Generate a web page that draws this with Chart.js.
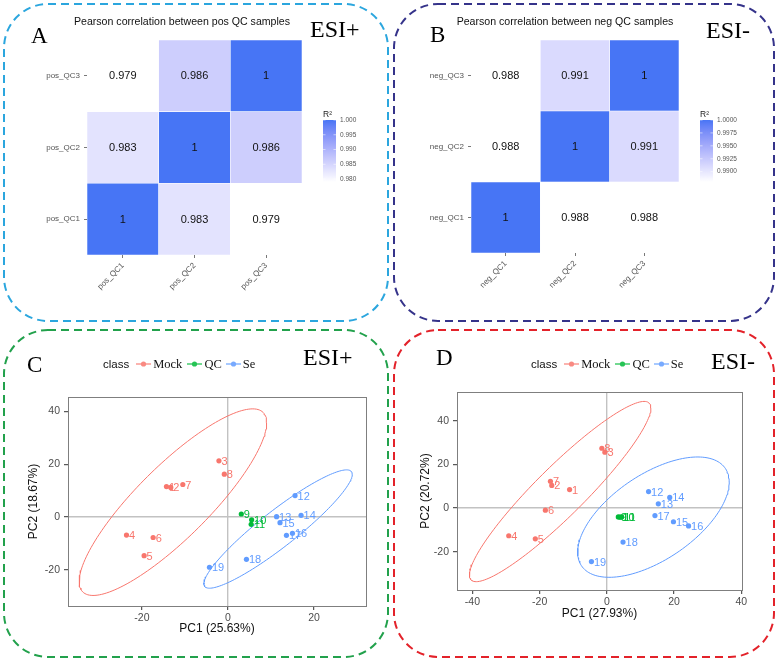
<!DOCTYPE html>
<html>
<head>
<meta charset="utf-8">
<script src="https://cdn.jsdelivr.net/npm/chart.js@4.4.0/dist/chart.umd.min.js"></script>
<style>
  body { margin: 0; background: #fff; }
  #page { position: relative; width: 777px; height: 662px; overflow: hidden; font-family: 'Liberation Sans', Arial, sans-serif; }
  #page canvas { position: absolute; }
  #boxes { position: absolute; left: 0; top: 0; pointer-events: none; }
  .t { position: absolute; white-space: nowrap; line-height: 1; color: #000; }
  .serif { font-family: 'Liberation Serif', 'Times New Roman', serif; }
  .letter { font-size: 23px; }
  .esi { font-size: 24px; }
  .title { font-size: 10.6px; color: #111; transform: translateX(-50%); }
  .legend { position: absolute; display: flex; align-items: center; height: 16px; }
  .legend .cls { font-size: 11.5px; color: #111; }
  .legend svg { display: block; }
  .legend .name { font-family: 'Liberation Serif', 'Times New Roman', serif; font-size: 12.5px; color: #111; margin-left: 2px; }
</style>
</head>
<body>
<div id="page">
  <canvas id="chartA" width="390" height="328" style="left:0;top:0"></canvas>
  <canvas id="chartB" width="386" height="328" style="left:391px;top:0"></canvas>
  <canvas id="chartC" width="390" height="328" style="left:0;top:330px"></canvas>
  <canvas id="chartD" width="386" height="328" style="left:391px;top:330px"></canvas>

  <svg id="boxes" width="777" height="662">
    <g fill="none" stroke-width="2" stroke-dasharray="8 5">
      <rect x="4" y="4" width="384" height="317" rx="44" stroke="#2ba6de"/>
      <rect x="394" y="4" width="380" height="317" rx="44" stroke="#35338a"/>
      <rect x="4" y="330" width="384" height="327" rx="44" stroke="#22a14c"/>
      <rect x="394" y="330" width="380" height="327" rx="44" stroke="#e3222a"/>
    </g>
  </svg>

  <div class="t serif letter" style="left:31px;top:24px">A</div>
  <div class="t serif esi" style="left:310px;top:17px">ESI+</div>
  <div class="t title" style="left:182px;top:16px">Pearson correlation between pos QC samples</div>

  <div class="t serif letter" style="left:430px;top:23px">B</div>
  <div class="t serif esi" style="left:706px;top:18px">ESI-</div>
  <div class="t title" style="left:565px;top:16px">Pearson correlation between neg QC samples</div>

  <div class="t serif letter" style="left:27px;top:353px">C</div>
  <div class="t serif esi" style="left:303px;top:345px">ESI+</div>
  <div class="legend" id="legendC" style="left:103px;top:356px"></div>

  <div class="t serif letter" style="left:436px;top:346px">D</div>
  <div class="t serif esi" style="left:711px;top:349px">ESI-</div>
  <div class="legend" id="legendD" style="left:531px;top:356px"></div>
</div>

<script>
// heatmaps: rows bottom-to-top QC1..QC3, columns QC1..QC3
const posLabels = ['pos_QC1', 'pos_QC2', 'pos_QC3'];
const posR = [
  [1, 0.983, 0.979],
  [0.983, 1, 0.986],
  [0.979, 0.986, 1]
];
const posBarTicks = [1.000, 0.995, 0.990, 0.985, 0.980];
const posBarLabels = ['1.000', '0.995', '0.990', '0.985', '0.980'];

const negLabels = ['neg_QC1', 'neg_QC2', 'neg_QC3'];
const negR = [
  [1, 0.988, 0.988],
  [0.988, 1, 0.991],
  [0.988, 0.991, 1]
];
const negBarTicks = [1.0000, 0.9975, 0.9950, 0.9925, 0.9900];
const negBarLabels = ['1.0000', '0.9975', '0.9950', '0.9925', '0.9900'];

// PCA ESI+
const classes = ['Mock', 'QC', 'Se'];
const cMockIds = [1, 2, 3, 4, 5, 6, 7, 8];
const cMockPC1 = [-14.3, -13.3, -2.1, -23.6, -19.5, -17.4, -10.5, -0.85];
const cMockPC2 = [11.5, 11.2, 21.3, -6.9, -14.7, -7.8, 12.3, 16.2];
const cQcIds = [9, 10, 11];
const cQcPC1 = [3.1, 5.5, 5.4];
const cQcPC2 = [1.1, -1.1, -2.8];
const cSeIds = [12, 13, 14, 15, 16, 17, 18, 19];
const cSePC1 = [15.6, 11.3, 17.0, 12.1, 15.0, 13.6, 4.3, -4.3];
const cSePC2 = [8.1, 0.1, 0.6, -2.2, -6.2, -7.0, -16.1, -19.1];
// ellipse: centre x, centre y, sd x, sd y, correlation
const cMockEllipse = [-12.8, 5.6, 21.8, 35.4, 0.851];
const cSeEllipse = [11.65, -4.6, 17.25, 22.45, 0.924];

// PCA ESI-
const dMockIds = [1, 2, 3, 4, 5, 6, 7, 8];
const dMockPC1 = [-11.1, -16.4, -0.6, -29.2, -21.3, -18.3, -16.8, -1.5];
const dMockPC2 = [8.5, 10.4, 25.6, -12.6, -14.0, -0.9, 12.3, 27.4];
const dQcIds = [9, 10, 11];
const dQcPC1 = [3.4, 3.9, 4.4];
const dQcPC2 = [-4.0, -4.1, -4.0];
const dSeIds = [12, 13, 14, 15, 16, 17, 18, 19];
const dSePC1 = [12.4, 15.3, 18.7, 19.8, 24.3, 14.3, 4.8, -4.6];
const dSePC2 = [7.6, 2.0, 4.9, -6.2, -8.1, -3.4, -15.5, -24.4];
const dMockEllipse = [-13.9, 7.6, 27.0, 41.2, 0.926];
const dSeEllipse = [13.85, -4.1, 22.55, 27.5, 0.583];

const classColors = ['#F8766D', '#00BA38', '#619CFF'];
const lowColor = [255, 255, 255];
const highColor = [71, 117, 245];

Chart.defaults.font.family = "'Liberation Sans', Arial, sans-serif";
Chart.defaults.animation = false;

// --- colour gradient in Lab, like ggplot ---
function lin(c) { c /= 255; return c <= 0.04045 ? c / 12.92 : Math.pow((c + 0.055) / 1.055, 2.4); }
function unlin(c) {
  c = c <= 0.0031308 ? 12.92 * c : 1.055 * Math.pow(c, 1 / 2.4) - 0.055;
  return Math.round(Math.max(0, Math.min(1, c)) * 255);
}
function toLab(rgb) {
  const [r, g, b] = rgb.map(lin);
  const x = (0.4124 * r + 0.3576 * g + 0.1805 * b) / 0.95047;
  const y = 0.2126 * r + 0.7152 * g + 0.0722 * b;
  const z = (0.0193 * r + 0.1192 * g + 0.9505 * b) / 1.08883;
  const f = t => t > 0.008856 ? Math.cbrt(t) : 7.787 * t + 16 / 116;
  return [116 * f(y) - 16, 500 * (f(x) - f(y)), 200 * (f(y) - f(z))];
}
function fromLab([L, a, bb]) {
  const fy = (L + 16) / 116, fx = fy + a / 500, fz = fy - bb / 200;
  const inv = t => t * t * t > 0.008856 ? t * t * t : (t - 16 / 116) / 7.787;
  const x = inv(fx) * 0.95047, y = inv(fy), z = inv(fz) * 1.08883;
  const r = 3.2406 * x - 1.5372 * y - 0.4986 * z;
  const g = -0.9689 * x + 1.8758 * y + 0.0415 * z;
  const b = 0.0557 * x - 0.2040 * y + 1.0570 * z;
  return `rgb(${unlin(r)},${unlin(g)},${unlin(b)})`;
}
const labLow = toLab(lowColor), labHigh = toLab(highColor);
function fillFor(t) {
  return fromLab(labLow.map((v, i) => v + (labHigh[i] - v) * t));
}

// --- plugins ---
const cellText = {
  id: 'cellText',
  afterDatasetsDraw(chart) {
    const ctx = chart.ctx;
    ctx.save();
    ctx.font = "11px 'Liberation Sans', Arial";
    ctx.fillStyle = '#111';
    ctx.textAlign = 'center';
    ctx.textBaseline = 'middle';
    chart.data.datasets.forEach((ds, i) => {
      chart.getDatasetMeta(i).data.forEach((bar, j) => {
        ctx.fillText(String(ds.values[j]), bar.x, (bar.y + bar.base) / 2 + 0.5);
      });
    });
    ctx.restore();
  }
};

const colorbar = {
  id: 'colorbar',
  afterDraw(chart, args, opts) {
    const { ctx, chartArea } = chart;
    const x = chartArea.right + 21, top = chartArea.top + 80, w = 13, h = 62;
    const grad = ctx.createLinearGradient(0, top + h, 0, top);
    for (let i = 0; i <= 20; i++) grad.addColorStop(i / 20, fillFor(i / 20));
    ctx.save();
    ctx.fillStyle = grad;
    ctx.fillRect(x, top, w, h);
    ctx.font = "6.5px 'Liberation Sans', Arial";
    ctx.fillStyle = '#555';
    ctx.textAlign = 'left';
    ctx.textBaseline = 'middle';
    ctx.strokeStyle = 'rgba(255,255,255,0.9)';
    ctx.lineWidth = 0.6;
    opts.ticks.forEach((v, i) => {
      const y = top + h - (v - opts.min) / (opts.max - opts.min) * h;
      ctx.beginPath();
      ctx.moveTo(x, y); ctx.lineTo(x + 2.5, y);
      ctx.moveTo(x + w - 2.5, y); ctx.lineTo(x + w, y);
      ctx.stroke();
      ctx.fillText(opts.labels[i], x + w + 4, y);
    });
    ctx.font = "8.5px 'Liberation Sans', Arial";
    ctx.fillStyle = '#222';
    ctx.textBaseline = 'alphabetic';
    ctx.fillText('R²', x, top - 3);
    ctx.restore();
  }
};

const frame = {
  id: 'frame',
  afterDatasetsDraw(chart) {
    const { ctx, chartArea: a } = chart;
    ctx.save();
    ctx.strokeStyle = '#7f7f7f';
    ctx.lineWidth = 1;
    ctx.strokeRect(Math.round(a.left) + 0.5, Math.round(a.top) + 0.5,
      Math.round(a.right - a.left), Math.round(a.bottom - a.top));
    ctx.restore();
  }
};

const pointLabels = {
  id: 'pointLabels',
  afterDatasetsDraw(chart) {
    const ctx = chart.ctx;
    ctx.save();
    ctx.font = "11px 'Liberation Sans', Arial";
    ctx.textAlign = 'left';
    ctx.textBaseline = 'middle';
    chart.data.datasets.forEach((ds, i) => {
      if (!ds.ids) return;
      ctx.fillStyle = ds.backgroundColor;
      chart.getDatasetMeta(i).data.forEach((pt, j) => {
        ctx.fillText(String(ds.ids[j]), pt.x + 2.5, pt.y + 1);
      });
    });
    ctx.restore();
  }
};

// --- heatmaps ---
function heatDatasets(matrix, labels) {
  const all = matrix.flat();
  const min = Math.min(...all), max = Math.max(...all);
  return matrix.map((row, r) => ({
    label: labels[r],
    data: row.map(() => [r, r + 1]),
    values: row,
    backgroundColor: row.map(v => fillFor((v - min) / (max - min))),
    borderColor: 'rgba(255,255,255,0.8)',
    borderWidth: 0.6,
    borderSkipped: false,
    barPercentage: 1,
    categoryPercentage: 1,
    grouped: false
  }));
}

function heatChart(id, labels, matrix, barTicks, barLabels, pad, yWidth, xHeight) {
  const all = matrix.flat();
  return new Chart(document.getElementById(id), {
    type: 'bar',
    data: { labels: labels, datasets: heatDatasets(matrix, labels) },
    options: {
      responsive: false,
      devicePixelRatio: 1,
      layout: { padding: pad },
      plugins: {
        legend: { display: false },
        tooltip: { enabled: false },
        colorbar: { min: Math.min(...all), max: Math.max(...all), ticks: barTicks, labels: barLabels }
      },
      scales: {
        x: {
          grid: { drawOnChartArea: false, offset: false, tickLength: 3, tickColor: '#555', tickWidth: 0.8 },
          border: { display: false },
          ticks: { minRotation: 45, maxRotation: 45, autoSkip: false, padding: 3, color: '#555', font: { size: 8 } },
          afterFit: s => { s.height = xHeight; }
        },
        y: {
          min: 0,
          max: 3,
          afterBuildTicks: s => { s.ticks = [0.5, 1.5, 2.5].map(v => ({ value: v })); },
          grid: { drawOnChartArea: false, tickLength: 3, tickColor: '#555', tickWidth: 0.8 },
          border: { display: false },
          ticks: { callback: v => labels[Math.floor(v)], padding: 4, color: '#555', font: { size: 8 } },
          afterFit: s => { s.width = yWidth; }
        }
      }
    },
    plugins: [cellText, colorbar]
  });
}

heatChart('chartA', posLabels, posR, posBarTicks, posBarLabels,
  { top: 40, right: 88, left: 0, bottom: 0 }, 87, 73);
heatChart('chartB', negLabels, negR, negBarTicks, negBarLabels,
  { top: 40, right: 98, left: 0, bottom: 0 }, 80, 75);

// --- PCA scatter ---
function toPoints(xs, ys) { return xs.map((x, i) => ({ x: x, y: ys[i] })); }
function ellipsePoints([cx, cy, sx, sy, r]) {
  const pts = [];
  for (let k = 0; k <= 160; k++) {
    const t = k / 160 * 2 * Math.PI;
    pts.push({ x: cx + sx * Math.cos(t), y: cy + sy * (r * Math.cos(t) + Math.sqrt(1 - r * r) * Math.sin(t)) });
  }
  return pts;
}
function pointSet(name, color, ids, xs, ys) {
  return {
    label: name, data: toPoints(xs, ys), ids: ids,
    backgroundColor: color, borderColor: color,
    pointRadius: 2.6, pointBorderWidth: 0, order: 1
  };
}
function ellipseSet(color, params) {
  return {
    label: 'ellipse', data: ellipsePoints(params), showLine: true,
    borderColor: color, borderWidth: 1, pointRadius: 0, fill: false, order: 2
  };
}

function pcaChart(id, sets, xr, yr, xTitle, yTitle, pad, yWidth, xHeight, yTitlePad, xTitlePad) {
  const zeroGrid = {
    color: c => (c.tick && c.tick.value === 0 ? '#c2c2c2' : 'rgba(0,0,0,0)'),
    lineWidth: 1.4, tickColor: '#333', tickLength: 4, tickWidth: 1
  };
  return new Chart(document.getElementById(id), {
    type: 'scatter',
    data: { datasets: sets },
    options: {
      responsive: false,
      devicePixelRatio: 1,
      layout: { padding: pad },
      plugins: { legend: { display: false }, tooltip: { enabled: false } },
      scales: {
        x: {
          type: 'linear', min: xr[0], max: xr[1],
          ticks: { stepSize: 20, includeBounds: false, color: '#4d4d4d', font: { size: 10.5 }, padding: 2 },
          grid: zeroGrid,
          border: { display: false },
          title: { display: true, text: xTitle, color: '#111', font: { size: 12 }, padding: { top: 0, bottom: xTitlePad } },
          afterFit: s => { s.height = xHeight; }
        },
        y: {
          type: 'linear', min: yr[0], max: yr[1],
          ticks: { stepSize: 20, includeBounds: false, color: '#4d4d4d', font: { size: 10.5 }, padding: 4 },
          grid: zeroGrid,
          border: { display: false },
          title: { display: true, text: yTitle, color: '#111', font: { size: 12 }, padding: { top: yTitlePad, bottom: 0 } },
          afterFit: s => { s.width = yWidth; }
        }
      }
    },
    plugins: [frame, pointLabels]
  });
}

pcaChart('chartC', [
  ellipseSet(classColors[0], cMockEllipse),
  ellipseSet(classColors[2], cSeEllipse),
  pointSet(classes[0], classColors[0], cMockIds, cMockPC1, cMockPC2),
  pointSet(classes[1], classColors[1], cQcIds, cQcPC1, cQcPC2),
  pointSet(classes[2], classColors[2], cSeIds, cSePC1, cSePC2)
], [-37.2, 32.1], [-33.8, 45.5], 'PC1 (25.63%)', 'PC2 (18.67%)',
  { top: 67, right: 24, left: 0, bottom: 0 }, 68, 52, 26, 22);

pcaChart('chartD', [
  ellipseSet(classColors[0], dMockEllipse),
  ellipseSet(classColors[2], dSeEllipse),
  pointSet(classes[0], classColors[0], dMockIds, dMockPC1, dMockPC2),
  pointSet(classes[1], classColors[1], dQcIds, dQcPC1, dQcPC2),
  pointSet(classes[2], classColors[2], dSeIds, dSePC1, dSePC2)
], [-44.6, 40.2], [-37.4, 53.1], 'PC1 (27.93%)', 'PC2 (20.72%)',
  { top: 62, right: 35, left: 0, bottom: 0 }, 66, 68, 27, 37);

// --- ggplot-style legends ---
function buildLegend(el) {
  const gaps = [7, 5, 4];
  let html = '<span class="cls">class</span>';
  classes.forEach((name, i) => {
    const c = classColors[i];
    html += `<svg width="15" height="10" style="margin-left:${gaps[i]}px;opacity:0.85">` +
      `<line x1="0" y1="5" x2="15" y2="5" stroke="${c}" stroke-width="1.3"/>` +
      `<circle cx="7.5" cy="5" r="2.6" fill="${c}"/></svg>` +
      `<span class="name">${name}</span>`;
  });
  el.innerHTML = html;
}
buildLegend(document.getElementById('legendC'));
buildLegend(document.getElementById('legendD'));
</script>
</body>
</html>
